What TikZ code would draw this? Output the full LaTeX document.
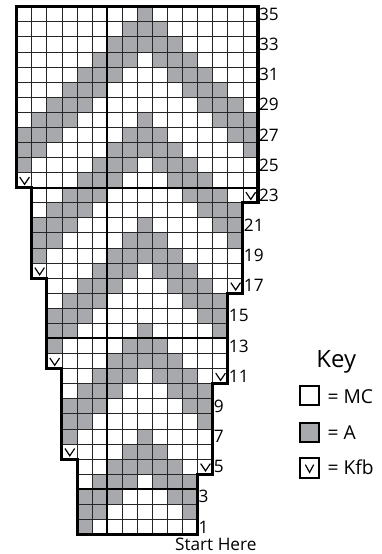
\documentclass[tikz,border=0pt]{standalone}
\usepackage{fontspec}
\setmainfont{Open Sans}
\usepackage{tikz}
\definecolor{yarnA}{RGB}{167,169,172}

\begin{document}
\begin{tikzpicture}[x=0.4cm,y=0.4cm,
	cell/.style={draw=black!85,line width=0.6pt},
	guide/.style={line width=1.5pt},
	edge/.style={line width=2.3pt,line join=miter},
	vmark/.style={line width=0.9pt},
	keybox/.style={line width=1.5pt},
	rownum/.style={anchor=west,inner sep=0.6pt,font=\fontsize{13}{13}\selectfont},
	keytxt/.style={anchor=base west,inner sep=0pt,font=\fontsize{14.5}{14.5}\selectfont}]
	\useasboundingbox (-1.109,-1.293) rectangle (24.19,35.444);
	% chart cells, row r runs from y=r-1 to y=r
	\foreach \r in {1,...,35} {
		\pgfmathtruncatemacro\lo{max(0,4-floor(\r/6))}
		\pgfmathtruncatemacro\hi{min(15,11+floor((\r+1)/6))}
		\foreach \c in {\lo,...,\hi} {
			\pgfmathtruncatemacro\u{abs(\c-8)+\r}
			\pgfmathtruncatemacro\k{mod(\u,7)}
			\ifnum\u<36
				\ifnum\k=0 \fill[yarnA] (\c,\r-1) rectangle ++(1,1); \fi
				\ifnum\k>4 \fill[yarnA] (\c,\r-1) rectangle ++(1,1); \fi
			\fi
			\draw[cell] (\c,\r-1) rectangle ++(1,1);
		}
	}
	% heavy guide lines
	\draw[guide] (6,0) -- (6,35);
	\draw[guide] (4,3) -- (12,3);
	\draw[guide] (2,13) -- (14,13);
	\draw[guide] (0,23) -- (16,23);
	% outline
	\draw[edge] (0,35) -- (16,35) -- (16,22) -- (15,22) -- (15,16) -- (14,16) -- (14,10) -- (13,10) -- (13,4) -- (12,4) -- (12,0) -- (4,0) -- (4,5) -- (3,5) -- (3,11) -- (2,11) -- (2,17) -- (1,17) -- (1,23) -- (0,23) -- cycle;
	% kfb stitches
	\foreach \c/\r in {0/24,15/23,1/18,14/17,2/12,13/11,3/6,12/5}
		\draw[vmark] (\c+0.2,\r-0.3) -- (\c+0.52,\r-0.78) -- (\c+0.84,\r-0.3);
	% row numbers
	\foreach \r/\x in {35/16,33/16,31/16,29/16,27/16,25/16,23/16,21/15,19/15,17/15,15/14,13/14,11/14,9/13,7/13,5/13,3/12,1/12}
		\node[rownum] (row\r) at (\x,\r-0.5) {\r};
	\node[anchor=base,font=\fontsize{13}{13}\selectfont] (start) at (13.2,-1.07) {Start Here};
	% key
	\node[anchor=base,font=\fontsize{18}{18}\selectfont] (keytitle) at (21.19,11.09) {Key};
	\draw[keybox] (18.76,8.59) rectangle (20.03,9.85);
	\filldraw[keybox,fill=yarnA] (18.76,6.11) rectangle (20.03,7.37);
	\draw[keybox] (18.76,3.77) rectangle (20.03,5.05);
	\draw[vmark] (19.14,4.63) -- (19.42,4.12) -- (19.69,4.63);
	\node[keytxt] (keymc) at (20.6,8.70) {= MC};
	\node[keytxt] (keya) at (20.6,6.33) {= A};
	\node[keytxt] (keykfb) at (20.6,3.99) {= Kfb};
\end{tikzpicture}
\end{document}
